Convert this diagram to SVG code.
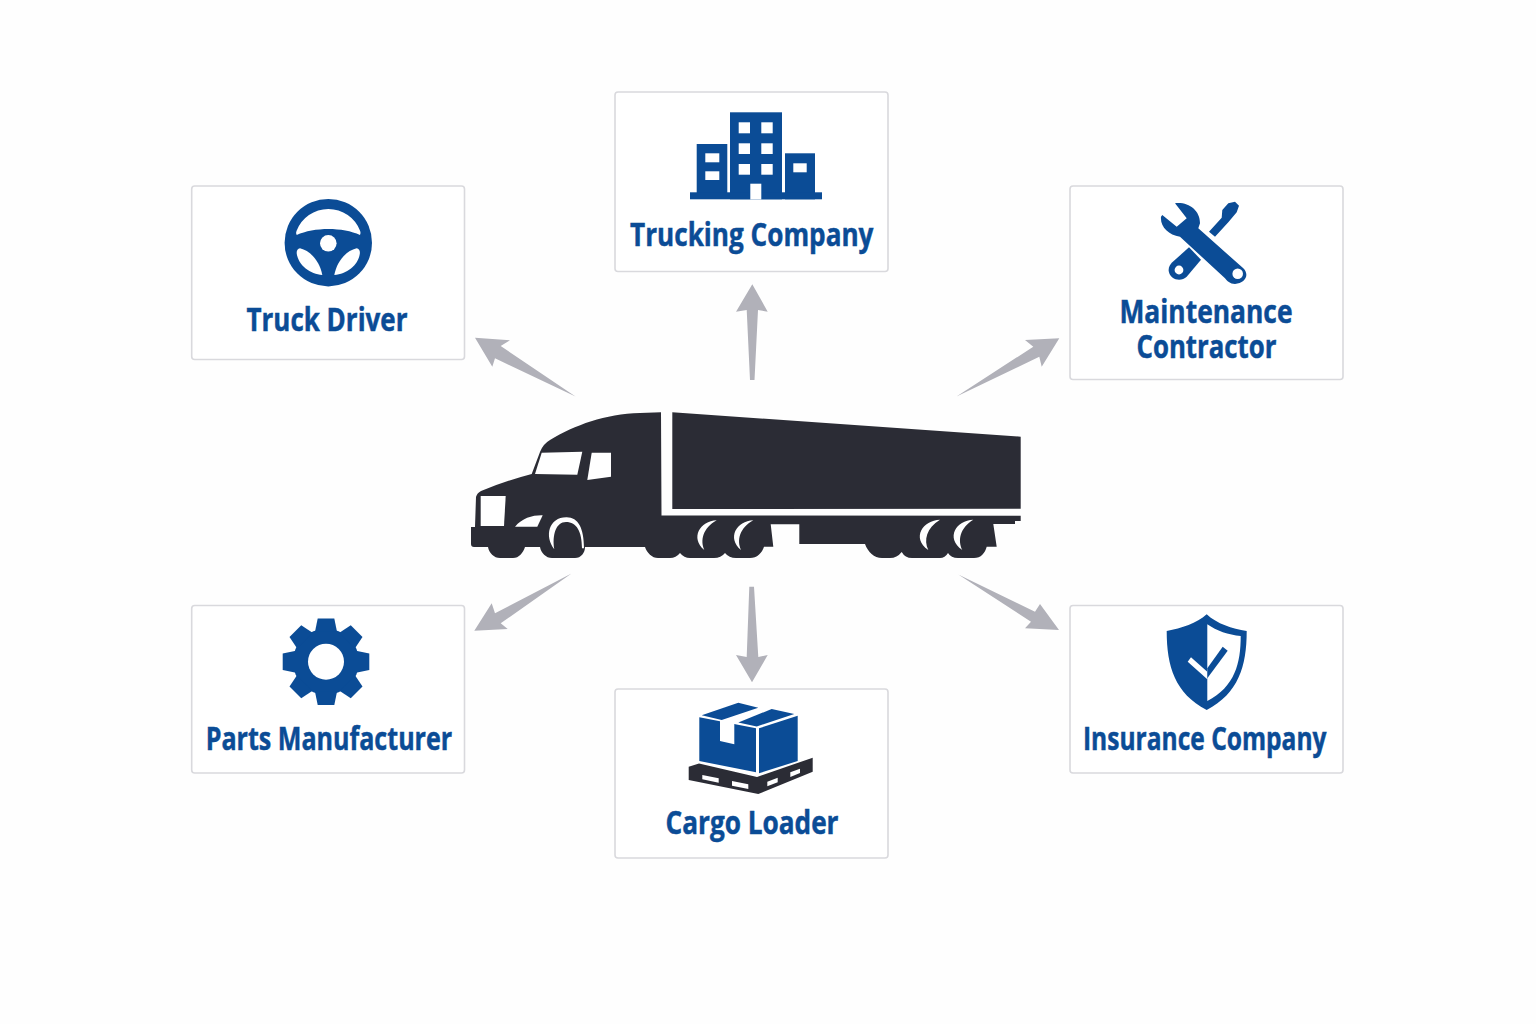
<svg xmlns="http://www.w3.org/2000/svg" width="1536" height="1024" viewBox="0 0 1536 1024">
<style>
.box{fill:#fff;stroke:#d9d9dd;stroke-width:1.6}
.ic{fill:#0b4c96}
.w{fill:#fff}
.dk{fill:#2b2c35}
.arrow{fill:#b1b1b9}
text{font-family:"Open Sans","Noto Sans","Liberation Sans",sans-serif;font-weight:700;font-size:33px;fill:#0b4c96;stroke:#0b4c96;stroke-width:.5}
</style>
<defs>
<polygon id="tooth" points="-8.3,-43.3 8.3,-43.3 11,-30 -11,-30"/>
</defs>
<rect width="1536" height="1024" fill="#fefefe"/>
<g id="connectors">
<polygon class="arrow" points="475,337.7 510,340.3 500.7,346 575.5,396.5 495,358.3 492.3,366.7"/>
<polygon class="arrow" points="752.3,284.3 767.7,311.7 758,310 754.5,380 750,380 746.7,310 736,311.7"/>
<polygon class="arrow" points="1059.3,338.3 1041.7,366.7 1039.3,356.7 956.5,396.5 1033.3,346.7 1025,340"/>
<polygon class="arrow" points="571.5,573.5 500.7,623.3 507.7,629 474.3,630.7 491.7,603.3 495,613.3"/>
<polygon class="arrow" points="749.3,586.7 754,586.7 758.3,657 767.7,655 752,682.3 736,655 746.7,657"/>
<polygon class="arrow" points="958.3,574.5 1035,611.7 1040,604 1059,630 1025,628.3 1031,621.7"/>
</g>
<g id="truck">
<path class="dk" d="M471,527 L475,527 L476,497 Q477,493 481,491 Q505,481 531.7,474 L540,452 Q543,444 550,440 C575,425 605,414 640,413 L661,412.3 L661.5,515.5 L1020.7,515.7 L1020.7,521 L1015,521 L1015,524 L993.3,524 L996.7,546.7 L986.7,546.7 C985,553 981,558 974,558 L958,558 Q951,558 948,553 Q945,558 940,558 L912,558 Q905,558 901.7,552 Q897,558 890,558 L882,558 C874,558 868,552 865,544 L799.3,544 L799.3,524.3 L770.7,524.3 L773.3,546.7 L764,546.7 C762,553 757,558 750,558 L736,558 Q729,558 725,553 Q721,558 714,558 L690,558 Q684,558 680,553 Q676,558 670,558 L658,558 C652,558 647,553 645,547 L585,547 C585,553 581,558 575,558 L552,558 C546,558 541,553 540,547 L525,547 C523,553 519,558 513,558 L500,558 C494,558 489,553 488,547 L474,547 Q471,547 471,544 Z"/>
<polygon class="dk" points="672.3,412.3 1020.7,436.7 1020.7,508.7 672.3,509"/>
<polygon class="w" points="480.7,496 505.7,496 504,526 480.7,526"/>
<polygon class="w" points="541.7,452.7 582.3,451.7 577.3,474.7 535,474"/>
<polygon class="w" points="591.7,452.7 611,452.7 611,476.7 587.3,480"/>
<path class="w" d="M515,526.7 C522,518 533,515 542.7,515.3 L537.3,526.7 Z"/>
<path class="w" d="M554.3,549.3 C544,536 549,517 566.7,517.3 C578.3,517.3 584,528.3 584,548.3 L582,548.3 C582,531.7 576.7,522 566,522 C556,522 552,535 554.3,549.3 Z"/>
<path class="w" d="M716.7,520.3 C700,521 690,538 704.3,550 C700,540 703,528 716.7,520.3 Z"/>
<path class="w" d="M753.3,520.3 C736.6,521 726.6,538 741,550 C736.6,540 739.6,528 753.3,520.3 Z"/>
<path class="w" d="M940,519.7 C923,520 911,538 928.3,550 C923.5,540 926.5,528 940,519.7 Z"/>
<path class="w" d="M973.3,519.7 C956.3,520 945,538 962.3,550 C957.5,540 960,528 973.3,519.7 Z"/>
</g>
<g id="truck-driver">
<rect class="box" x="191.7" y="186" width="272.8" height="173.5" rx="3"/>
<circle class="ic" cx="328.3" cy="242.7" r="43.7"/>
<path class="w" d="M296.7,235 Q295.5,233 296.5,231 A34 34 0 0 1 360.2,231 Q361,233 360,235 C343,227 314,227 296.7,235 Z"/>
<path class="w" d="M300,248.3 C311,251 320,262 322.3,275 C310,274 298,265 296.7,253.3 Q296.5,249 300,248.3 Z"/>
<path class="w" d="M356.6,248.3 C345.6,251 336.6,262 334.3,275 C346.6,274 358.6,265 359.9,253.3 Q360.1,249 356.6,248.3 Z"/>
<circle class="w" cx="328.3" cy="243.3" r="8.3"/>
<text x="246.5" y="330.7" textLength="161" lengthAdjust="spacingAndGlyphs">Truck Driver</text>
</g>
<g id="trucking-company">
<rect class="box" x="615" y="92" width="273" height="179.5" rx="3"/>
<rect class="ic" x="730" y="112.3" width="52" height="87"/>
<rect class="ic" x="696.7" y="144" width="30.6" height="55"/>
<rect class="ic" x="785" y="153.3" width="30" height="46"/>
<rect class="ic" x="690" y="192.3" width="132" height="7"/>
<rect class="w" x="750.3" y="183.7" width="11" height="15.8"/>
<g class="w">
<rect x="738.7" y="122.3" width="11.3" height="11"/><rect x="761.3" y="122.3" width="11.4" height="11"/>
<rect x="738.7" y="143.3" width="11.3" height="10.7"/><rect x="761.3" y="143.3" width="11.4" height="10.7"/>
<rect x="738.7" y="164" width="11.3" height="10.7"/><rect x="761.3" y="164" width="11.4" height="10.7"/>
<rect x="705.3" y="153.3" width="14" height="9"/><rect x="705.3" y="171.3" width="14" height="8.7"/>
<rect x="793.3" y="163.3" width="13.4" height="9"/>
</g>
<text x="630" y="246" textLength="243.5" lengthAdjust="spacingAndGlyphs">Trucking Company</text>
</g>
<g id="maintenance-contractor">
<rect class="box" x="1070" y="186" width="273" height="193.5" rx="3"/>
<path class="ic" d="M1189,247.3 L1201,259.7 L1186.7,276.7 C1181,282.3 1170,280 1168.7,271 C1168.3,266.7 1170.3,264.3 1172.3,262.3 Z"/>
<circle class="w" cx="1179" cy="270" r="4.4"/>
<polygon class="ic" points="1209,231.7 1215,236.7 1228.3,222.3 1236.7,212.3 1239,205.7 1235,201.7 1228.3,203.3 1222.3,210 1221.7,217.7"/>
<path class="ic" d="M1175,203.3 C1188.3,201.7 1200,210 1200,223.3 L1198.3,228.3 L1243.3,268.3 C1250,275 1245,283.3 1235,284 C1230,284 1227,281 1225,278.3 L1180,236.7 C1168.3,235 1160,226.7 1161,216.7 L1162.3,215 L1176.7,226.7 L1186.7,218.3 Z"/>
<circle class="w" cx="1237.7" cy="273.7" r="5.3"/>
<text x="1119.5" y="323" textLength="173" lengthAdjust="spacingAndGlyphs">Maintenance</text>
<text x="1136.5" y="358" textLength="140" lengthAdjust="spacingAndGlyphs">Contractor</text>
</g>
<g id="parts-manufacturer">
<rect class="box" x="191.7" y="605.5" width="272.8" height="167.5" rx="3"/>
<g class="ic" transform="translate(326 661.7)">
<circle r="33"/>
<use href="#tooth"/><use href="#tooth" transform="rotate(45)"/><use href="#tooth" transform="rotate(90)"/><use href="#tooth" transform="rotate(135)"/><use href="#tooth" transform="rotate(180)"/><use href="#tooth" transform="rotate(225)"/><use href="#tooth" transform="rotate(270)"/><use href="#tooth" transform="rotate(315)"/>
<circle class="w" r="18"/>
</g>
<text x="205.7" y="749.7" textLength="246.5" lengthAdjust="spacingAndGlyphs">Parts Manufacturer</text>
</g>
<g id="cargo-loader">
<rect class="box" x="615" y="689" width="273" height="169" rx="3"/>
<polygon class="dk" points="688.7,766.7 699,763.5 757,777 812.7,757.7 812.7,771.7 758.3,794 688.7,780"/>
<g class="w">
<polygon points="702.3,775 718.7,778.3 718.7,782.7 702.3,779.3"/>
<polygon points="732,781 748.3,784.3 748.3,789 732,785.7"/>
<polygon points="767.3,781.7 777.7,777.7 777.7,782.3 767.3,786.3"/>
<polygon points="790.3,772.3 800,768.7 800,773 790.3,777"/>
</g>
<polygon class="ic" points="699.3,717.3 756,728.3 756,772.3 699.3,761"/>
<polygon class="w" points="720,719 734.3,722 734.3,744.3 720,741"/>
<polygon class="ic" points="759,728.3 797.7,715.7 797.7,761 759,773.3"/>
<polygon class="ic" points="701.7,715.3 738.3,702.7 758.3,707.7 721.7,720"/>
<polygon class="ic" points="738.3,722.5 771.7,709 794.3,714 756.7,726.5"/>
<text x="665.5" y="834" textLength="173" lengthAdjust="spacingAndGlyphs">Cargo Loader</text>
</g>
<g id="insurance-company">
<rect class="box" x="1070" y="605.5" width="273" height="167.5" rx="3"/>
<path class="ic" d="M1206.7,614.3 C1217,624 1232,628.5 1246.7,631 C1246.7,666.7 1238.3,693.3 1206.7,710 C1175,693.3 1166.7,666.7 1166.7,631 C1181.7,628.3 1196.7,623.3 1206.7,614.3 Z"/>
<path class="w" d="M1207.3,624.3 C1216.7,630.7 1228.3,635 1240.7,636 C1240.7,663.3 1235,686.7 1207.3,701 Z"/>
<polygon class="w" points="1191,657.3 1207.3,671.7 1207.3,679.3 1187.7,661.7"/>
<polygon class="ic" points="1207.3,668.3 1222.7,646.7 1227.7,650.7 1207.3,678.3"/>
<text x="1083" y="750" textLength="243.5" lengthAdjust="spacingAndGlyphs">Insurance Company</text>
</g>
</svg>
